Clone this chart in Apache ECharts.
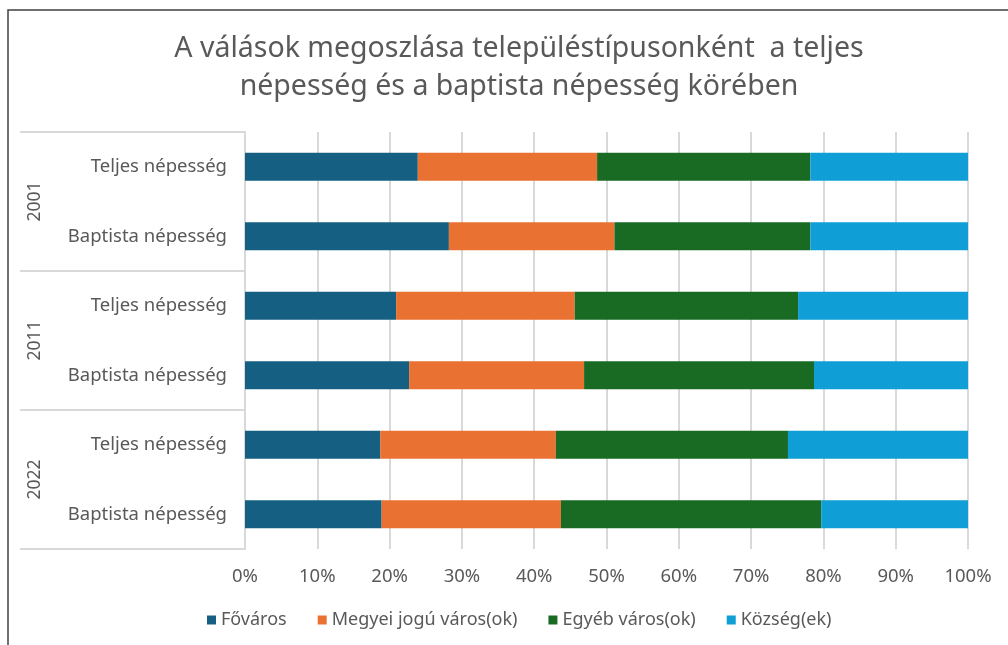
<!DOCTYPE html>
<html><head><meta charset="utf-8">
<script src="https://cdn.jsdelivr.net/npm/echarts@6/dist/echarts.min.js"></script>
<style>html,body{margin:0;padding:0;background:#fff}#c{width:1008px;height:645px}</style>
</head><body><div id="c"></div>
<script>
const rowLabels = ['Teljes népesség','Baptista népesség','Teljes népesség','Baptista népesség','Teljes népesség','Baptista népesség'];
const years = ['2001','2011','2022'];
const seriesNames = ['Főváros','Megyei jogú város(ok)','Egyéb város(ok)','Község(ek)'];
const fovaros = [23.9, 28.2, 20.9, 22.7, 18.7, 18.9];
const megyei  = [24.8, 22.9, 24.7, 24.2, 24.3, 24.8];
const egyeb   = [29.5, 27.1, 30.9, 31.8, 32.1, 36.0];
const kozseg  = [21.8, 21.8, 23.5, 21.3, 24.9, 20.3];
const xTicks = [0,10,20,30,40,50,60,70,80,90,100];
const colors = ['#156082','#E97132','#196B24','#0F9ED5'];
const values = [fovaros, megyei, egyeb, kozseg];
const txt = '#595959';
const font = '"Noto Sans", sans-serif';

const chart = echarts.init(document.getElementById('c'));
chart.setOption({
  animation:false,
  color: colors,
  title:{
    text:'A válások megoszlása településtípusonként  a teljes\nnépesség és a baptista népesség körében',
    left:514, textAlign:'center', top:25,
    textStyle:{color:txt, fontSize:28.5, fontWeight:'normal', fontFamily:font, lineHeight:38}
  },
  legend:{
    bottom:11, left:202, itemWidth:9, itemHeight:9, itemGap:31, icon:'rect',
    textStyle:{color:txt, fontSize:18, fontFamily:font}
  },
  grid:{left:245, right:40, top:132, bottom:96},
  xAxis:{
    type:'value', min:xTicks[0], max:xTicks[xTicks.length-1], interval:10,
    axisLabel:{formatter:'{value}%', color:txt, fontSize:18.5, fontFamily:font, margin:18},
    axisLine:{show:false}, axisTick:{show:false},
    splitLine:{lineStyle:{color:'#d9d9d9', width:2}}
  },
  yAxis:[{
    type:'category', inverse:true, data:rowLabels.map((l,i)=>i),
    axisLabel:{formatter:(v,i)=>rowLabels[i], color:txt, fontSize:18.5, fontFamily:font, margin:18},
    axisLine:{show:true, lineStyle:{color:'#d9d9d9', width:2}},
    axisTick:{show:false}
  },{
    type:'category', inverse:true, data:years, position:'left',
    axisLabel:{rotate:90, color:txt, fontSize:17.5, fontFamily:font, margin:201},
    axisLine:{show:false},
    axisTick:{show:true, length:225, lineStyle:{color:'#d9d9d9', width:2}}
  }],
  series: seriesNames.map((n,k)=>({
    name:n, type:'bar', stack:'total', yAxisIndex:0, barWidth:'40%',
    data: values[k]
  })),
  graphic:[{type:'rect', shape:{x:8, y:10, width:1100, height:700}, style:{fill:'none', stroke:'#404040', lineWidth:1.5}, silent:true}]
});
</script></body></html>
